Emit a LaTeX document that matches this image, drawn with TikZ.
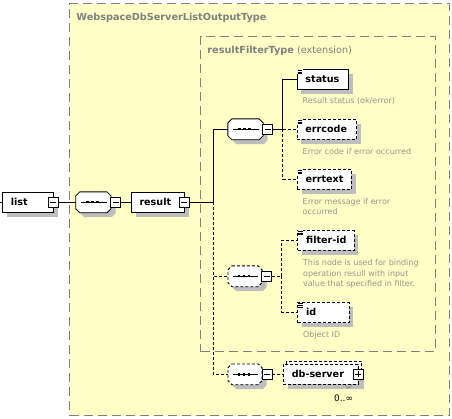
\documentclass[tikz,border=0pt]{standalone}
\usepackage{fontspec}
\setmainfont{DejaVu Sans}
\usetikzlibrary{shadows}
\definecolor{bgyellow}{RGB}{255,255,198}
\definecolor{framegray}{RGB}{128,128,128}
\definecolor{descgray}{RGB}{150,150,145}
\definecolor{shadegray}{RGB}{190,190,190}
\newcommand\octpath[3]{([shift={(#2+4pt,#3)}]#1.north west) -- ([shift={(#2-4pt,#3)}]#1.north east) -- ([shift={(#2,#3-4pt)}]#1.north east) -- ([shift={(#2,#3+4pt)}]#1.south east) -- ([shift={(#2-4pt,#3)}]#1.south east) -- ([shift={(#2+4pt,#3)}]#1.south west) -- ([shift={(#2,#3+4pt)}]#1.south west) -- ([shift={(#2,#3-4pt)}]#1.north west) -- cycle}
\newcommand\seqdraw[2]{%
  \fill[shadegray] \octpath{#1}{4.5pt}{-4.5pt};
  \draw[fill=white,#2] \octpath{#1}{0pt}{0pt};
  \draw ([xshift=5pt]#1.west) -- ([xshift=-4.5pt]#1.east);
  \fill ([shift={(-7.2pt,-1.2pt)}]#1.center) rectangle ++(2.4pt,2.4pt);
  \fill ([shift={(-2.2pt,-1.2pt)}]#1.center) rectangle ++(2.4pt,2.4pt);
  \fill ([shift={(2.8pt,-1.2pt)}]#1.center) rectangle ++(2.4pt,2.4pt);
}
\newcommand\minusbox[2]{\node[mbox] (#1) at (#2) {};
  \draw ([xshift=-3pt]#1.center) -- ([xshift=3pt]#1.center);}
\newcommand\plusbox[2]{\node[mbox] (#1) at (#2) {};
  \draw ([xshift=-3pt]#1.center) -- ([xshift=3pt]#1.center);
  \draw ([yshift=-3pt]#1.center) -- ([yshift=3pt]#1.center);}
\newcommand\txticon[1]{%
  \fill[white] ([shift={(0.6pt,-0.6pt)}]#1.north west) rectangle ([shift={(6pt,-5.6pt)}]#1.north west);
  \draw[line width=0.6pt] ([shift={(1pt,-1.4pt)}]#1.north west) -- ([shift={(5.5pt,-1.4pt)}]#1.north west);
  \draw[line width=0.6pt] ([shift={(1pt,-3.1pt)}]#1.north west) -- ([shift={(5.5pt,-3.1pt)}]#1.north west);
  \draw[line width=0.6pt] ([shift={(1pt,-4.8pt)}]#1.north west) -- ([shift={(5.5pt,-4.8pt)}]#1.north west);
}
\tikzset{
  shd/.style={drop shadow={shadow xshift=4.5pt,shadow yshift=-4.5pt,fill=shadegray,opacity=1}},
  elem/.style={draw, fill=white, shd, minimum height=20pt, inner xsep=8.5pt, inner ysep=0pt,
    text height=7pt, text depth=0pt, font=\fontsize{9.6}{11}\selectfont\bfseries, align=left},
  optelem/.style={elem, dash pattern=on 3pt off 2pt},
  optline/.style={dash pattern=on 3pt off 2pt},
  seqnode/.style={minimum width=34.5pt, minimum height=20pt, inner sep=0pt},
  mbox/.style={draw, fill=white, minimum size=10pt, inner sep=0pt},
  container/.style={draw=framegray, fill=bgyellow, line width=1pt, dash pattern=on 9pt off 5pt, inner sep=0pt, anchor=north west},
  ttl/.style={font=\fontsize{9.7}{11}\selectfont, text=framegray, anchor=base west, inner sep=0pt},
  desc/.style={font=\fontsize{8}{10.6}\selectfont, text=descgray, align=left, anchor=base west, inner sep=0pt},
}
\begin{document}
\begin{tikzpicture}[x=1pt,y=-1pt,line width=0.8pt]
\useasboundingbox (0,0) rectangle (452,419);
\fill[white] (0,0) rectangle (452,419);
% containers
\node[container, minimum width=379.4pt, minimum height=411.7pt] (outer) at (69.3,3.3) {};
\node[container, minimum width=234.7pt, minimum height=315pt] (inner) at (200.3,36) {};
\node[ttl] (outerttl) at (76,20.5) {\bfseries WebspaceDbServerListOutputType};
\node[ttl] (innerttl) at (207,53.8) {\textbf{resultFilterType} (extension)};
% left part
\node[elem, text width=34pt] (list) at (27.8,202.3) {\mbox{list}};
\node[seqnode] (s1) at (93.4,202.3) {};
\node[elem, text width=36pt] (result) at (157.5,202.3) {\mbox{result}};
\node[seqnode] (s2) at (245.5,129.3) {};
\node[seqnode, minimum width=33.4pt] (s3) at (245,276.3) {};
\node[seqnode, minimum width=33.4pt] (s4) at (245,374.3) {};
\coordinate (lstart) at (0,202.3);
\coordinate (b1) at (213,202.3);
\coordinate (b2) at (282.5,129.3);
\coordinate (b3) at (281.7,276.3);
% elements
\node[elem, text width=34.7pt] (status) at (322.8,79.3) {\mbox{status}};
\node[optelem, text width=42.7pt] (errcode) at (326.8,129.3) {\mbox{errcode}};
\node[optelem, text width=37.3pt] (errtext) at (324.2,179.3) {\mbox{errtext}};
\node[optelem, text width=39.3pt] (filterid) at (325.8,240.3) {\mbox{filter-id}};
\node[optelem, text width=34.3pt] (id) at (323.3,312.5) {\mbox{id}};
% db-server stacked
\fill[shadegray] (288,369) rectangle (363.5,389.3);
\node[draw, fill=white, optline, minimum width=75pt, minimum height=20pt, inner sep=0pt] (dbsback) at (324.2,371.3) {};
\node[optelem, shd/.style={}, text width=58pt] (dbs) at (320.8,374.3) {\mbox{db-server}};
% compositors
\seqdraw{s1}{}
\seqdraw{s2}{}
\seqdraw{s3}{optline}
\seqdraw{s4}{optline}
% connectors
\draw (lstart) -- (list.west);
\minusbox{listm}{53.3,202.3}
\minusbox{s1m}{115.5,202.3}
\minusbox{resm}{184.3,202.3}
\minusbox{s2m}{267.7,129.3}
\minusbox{s3m}{266.7,276.3}
\minusbox{s4m}{267,374.3}
\plusbox{dbsp}{358,374.3}
\draw (listm.east) -- (s1.west);
\draw (s1m.east) -- (result.west);
\draw (resm.east) -- (b1) |- (s2.west);
\draw[optline] (b1) |- (s3.west);
\draw[optline] (b1) |- (s4.west);
\draw (s2m.east) -- (b2) |- (status.west);
\draw[optline] (b2) -- (errcode.west);
\draw[optline] (b2) |- (errtext.west);
\draw[optline] (s3m.east) -- (b3) |- (filterid.west);
\draw[optline] (b3) |- (id.west);
\draw[optline] (s4m.east) -- (dbs.west);
% text icons
\txticon{status}
\txticon{errcode}
\txticon{errtext}
\txticon{filterid}
\txticon{id}
% occurrence
\draw[line width=0.6pt, framegray] (345,385) -- (348.3,388.3) -- (351.7,385);
\node[font=\fontsize{9}{10}\selectfont, anchor=base east, inner sep=0pt] (occ) at (353.5,401.5) {0..∞};
% descriptions
\node[desc] (dstatus) at (302.3,103.8) {Result status (ok/error)};
\node[desc] (derrcode) at (302.3,154.3) {Error code if error occurred};
\node[desc] (derrtext) at (302.3,215) {Error message if error\\occurred};
\node[desc] (dfilter) at (302.7,286.8) {This node is used for binding\\operation resull with input\\value that specified in filter.};
\node[desc] (did) at (302.7,337) {Object ID};
\end{tikzpicture}
\end{document}
